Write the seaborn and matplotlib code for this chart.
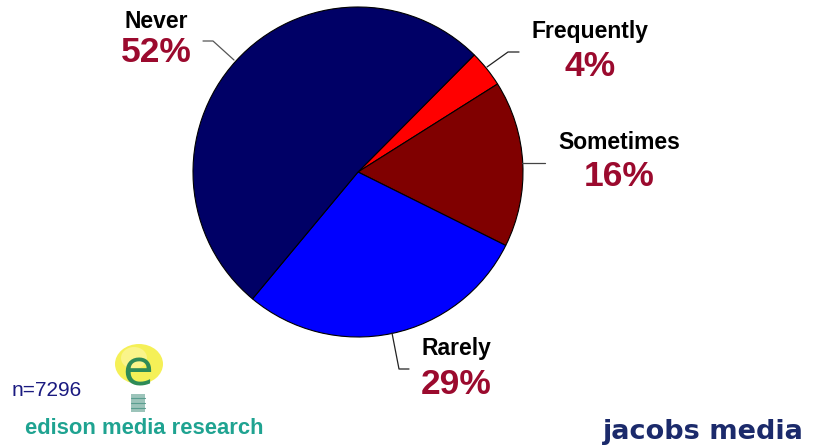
import matplotlib
matplotlib.use("Agg")
import matplotlib.pyplot as plt
import seaborn as sns
from matplotlib.patches import Ellipse, Rectangle

# ---- data ----
categories = ["Frequently", "Sometimes", "Rarely", "Never"]
shares = [3.6, 16.3, 28.7, 51.4]
pct_labels = ["4%", "16%", "29%", "52%"]
colors = ["#FF0000", "#800000", "#0000FF", "#000066"]
sample_note = "n=7296"
source_left = "edison media research"
source_right = "jacobs media"

sns.set_theme(style="white")
plt.rcParams['font.family'] = ['Liberation Sans', 'DejaVu Sans']

W, H = 818, 448
fig = plt.figure(figsize=(W / 100, H / 100), dpi=100)
ax = fig.add_axes([0, 0, 1, 1])
ax.set_xlim(0, W)
ax.set_ylim(0, H)
ax.set_aspect('equal')
ax.axis('off')

def Y(y):
    return H - y

cx, cy, r = 358, 172, 165
ax.pie(shares, colors=colors, startangle=45.2, counterclock=False,
       center=(cx, Y(cy)), radius=r, frame=True,
       wedgeprops=dict(edgecolor="black", linewidth=0.8))
ax.set_xlim(0, W)
ax.set_ylim(0, H)
ax.axis('off')

# label positions (label center x, label y, pct y)
label_pos = {
    "Frequently": (590, 31, 66),
    "Sometimes": (619, 142, 176),
    "Rarely": (456, 349, 384),
    "Never": (156, 21, 52),
}
pct_color = "#9B0A2E"
for cat, pl in zip(categories, pct_labels):
    x, yl, yp = label_pos[cat]
    ax.text(x, Y(yl), cat, ha='center', va='center', fontsize=16.5,
            fontweight='bold', color='black')
    ax.text(x, Y(yp), pl, ha='center', va='center', fontsize=25.5,
            fontweight='bold', color=pct_color)

# leader lines
leaders = [
    ([234, 213, 203], [60, 41, 41], "#555555"),
    ([487, 508, 519], [67, 52, 52], "#222222"),
    ([522, 545], [163, 163], "#444444"),
    ([392, 399, 409], [333, 369, 369], "#222222"),
]
for xs, ys, c in leaders:
    ax.plot(xs, [Y(v) for v in ys], color=c, linewidth=0.9)

# footnotes / logos
ax.text(12, Y(391), sample_note, ha='left', va='center', fontsize=15,
        color="#1A1A80")
ax.text(25, Y(429), source_left, ha='left', va='center', fontsize=15.8,
        fontweight='bold', color="#1FA391")

# bulb logo approximation
ax.add_patch(Ellipse((139, Y(364)), 48, 40, color="#F4EE3A", alpha=0.85, lw=0))
ax.add_patch(Ellipse((134, Y(358)), 26, 22, color="#FAF48A", lw=0))
ax.text(138, Y(372), "e", ha='center', va='center', fontsize=36,
        color="#2E8B57", family='DejaVu Sans')
ax.add_patch(Rectangle((131, Y(412)), 14, 18, color="#9CC4BA", lw=0))
for yy in (398, 403, 408):
    ax.plot([131, 145], [Y(yy), Y(yy)], color="#5A9E90", lw=0.8)

ax.text(603, Y(432), source_right, ha='left', va='center', fontsize=19.5,
        fontweight='bold', color="#1B2A6B", family='DejaVu Sans')

fig.savefig("out.png", dpi=100)
